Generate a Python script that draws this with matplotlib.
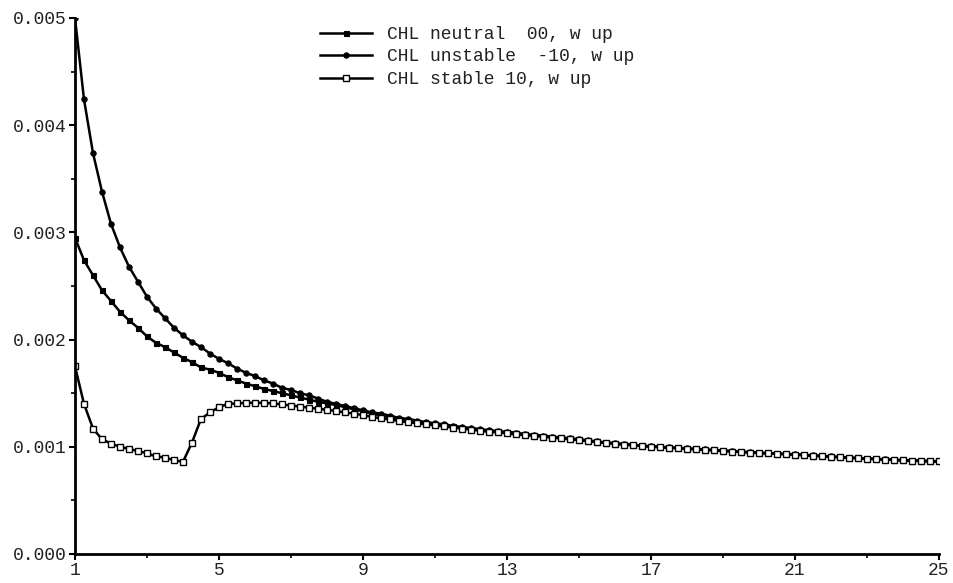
import numpy as np
import matplotlib
matplotlib.use("Agg")
import matplotlib.pyplot as plt
from matplotlib.ticker import FixedLocator, FuncFormatter

# Sample positions along the x axis (quarter steps from 1 to 25)
x_vals = np.arange(1.0, 25.001, 0.25)

# Drag coefficient series, in units of 1e-3 (one row per unit step of x)
chl_neutral_e3 = [
    2.95, 2.74, 2.60, 2.46,
    2.36, 2.26, 2.18, 2.11,
    2.03, 1.97, 1.93, 1.88,
    1.83, 1.79, 1.74, 1.72,
    1.69, 1.65, 1.62, 1.59,
    1.565, 1.54, 1.52, 1.50,
    1.48, 1.46, 1.44, 1.42,
    1.405, 1.39, 1.37, 1.35,
    1.33, 1.31, 1.29, 1.275,
    1.26, 1.25, 1.235, 1.225,
    1.21, 1.20, 1.19, 1.18,
    1.17, 1.16, 1.15, 1.14,
    1.135, 1.125, 1.115, 1.105,
    1.10, 1.09, 1.08, 1.075,
    1.065, 1.055, 1.045, 1.038,
    1.03, 1.022, 1.016, 1.01,
    1.003, 0.998, 0.993, 0.988,
    0.983, 0.978, 0.973, 0.968,
    0.963, 0.958, 0.953, 0.948,
    0.944, 0.94, 0.936, 0.932,
    0.928, 0.923, 0.918, 0.913,
    0.908, 0.903, 0.898, 0.894,
    0.89, 0.886, 0.882, 0.878,
    0.874, 0.871, 0.868, 0.866,
    0.864,
]

chl_unstable_e3 = [
    5.00, 4.24, 3.74, 3.38,
    3.08, 2.86, 2.68, 2.54,
    2.40, 2.29, 2.20, 2.11,
    2.04, 1.98, 1.93, 1.87,
    1.82, 1.78, 1.73, 1.69,
    1.66, 1.62, 1.59, 1.55,
    1.53, 1.50, 1.48, 1.45,
    1.42, 1.40, 1.38, 1.36,
    1.34, 1.32, 1.31, 1.29,
    1.27, 1.26, 1.245, 1.23,
    1.22, 1.21, 1.195, 1.185,
    1.175, 1.165, 1.155, 1.145,
    1.14, 1.13, 1.12, 1.11,
    1.105, 1.095, 1.085, 1.08,
    1.07, 1.06, 1.05, 1.04,
    1.035, 1.025, 1.02, 1.01,
    1.005, 1.0, 0.995, 0.99,
    0.985, 0.98, 0.975, 0.97,
    0.965, 0.96, 0.955, 0.95,
    0.945, 0.94, 0.937, 0.933,
    0.93, 0.925, 0.92, 0.915,
    0.91, 0.905, 0.90, 0.895,
    0.89, 0.887, 0.883, 0.879,
    0.875, 0.872, 0.869, 0.867,
    0.865,
]

chl_stable_e3 = [
    1.75, 1.40, 1.17, 1.07,
    1.03, 1.00, 0.98, 0.96,
    0.94, 0.91, 0.90, 0.875,
    0.86, 1.04, 1.26, 1.32,
    1.37, 1.40, 1.405, 1.41,
    1.41, 1.41, 1.405, 1.395,
    1.385, 1.375, 1.365, 1.355,
    1.345, 1.335, 1.32, 1.31,
    1.295, 1.28, 1.265, 1.255,
    1.24, 1.23, 1.22, 1.21,
    1.20, 1.19, 1.18, 1.17,
    1.16, 1.15, 1.14, 1.135,
    1.125, 1.115, 1.11, 1.10,
    1.095, 1.085, 1.078, 1.07,
    1.062, 1.052, 1.044, 1.036,
    1.028, 1.02, 1.014, 1.008,
    1.001, 0.996, 0.991, 0.986,
    0.981, 0.976, 0.971, 0.966,
    0.961, 0.956, 0.951, 0.946,
    0.942, 0.938, 0.934, 0.93,
    0.926, 0.921, 0.916, 0.911,
    0.906, 0.901, 0.897, 0.893,
    0.889, 0.885, 0.881, 0.877,
    0.873, 0.870, 0.867, 0.865,
    0.863,
]

series_labels = [
    "CHL neutral  00, w up",
    "CHL unstable  -10, w up",
    "CHL stable 10, w up",
]

x_major_ticks = [1, 5, 9, 13, 17, 21, 25]
x_minor_ticks = [3, 7, 11, 15, 19, 23]
y_major_ticks = [0.000, 0.001, 0.002, 0.003, 0.004, 0.005]
y_minor_ticks = [0.0005, 0.0015, 0.0025, 0.0035, 0.0045]

MONO = ["Liberation Mono", "DejaVu Sans Mono"]
FS = 13

fig = plt.figure(figsize=(9.54, 5.83), dpi=100)
ax = fig.add_axes([75 / 954, 29 / 583, 864 / 954, 536 / 583])

scale = 1e-3
ax.plot(x_vals, np.array(chl_neutral_e3) * scale, color="black", lw=1.8,
        marker="s", ms=3.6, mfc="black", mec="black", mew=0.8,
        label=series_labels[0])
ax.plot(x_vals, np.array(chl_unstable_e3) * scale, color="black", lw=1.8,
        marker="o", ms=3.8, mfc="black", mec="black", mew=0.8,
        label=series_labels[1])
ax.plot(x_vals, np.array(chl_stable_e3) * scale, color="black", lw=1.8,
        marker="s", ms=4.0, mfc="white", mec="black", mew=1.0,
        label=series_labels[2])

ax.set_xlim(1, 25)
ax.set_ylim(0, 0.005)

for side in ("top", "right"):
    ax.spines[side].set_visible(False)
for side in ("left", "bottom"):
    ax.spines[side].set_linewidth(2.0)
    ax.spines[side].set_color("black")

ax.xaxis.set_major_locator(FixedLocator(x_major_ticks))
ax.xaxis.set_minor_locator(FixedLocator(x_minor_ticks))
ax.yaxis.set_major_locator(FixedLocator(y_major_ticks))
ax.yaxis.set_minor_locator(FixedLocator(y_minor_ticks))
ax.yaxis.set_major_formatter(FuncFormatter(lambda v, p: f"{v:.3f}"))
ax.xaxis.set_major_formatter(FuncFormatter(lambda v, p: f"{int(round(v))}"))

ax.tick_params(axis="both", which="major", direction="out", length=4,
               width=1.5, color="black", pad=2)
ax.tick_params(axis="both", which="minor", direction="out", length=3,
               width=1.2, color="black")
for lab in ax.get_xticklabels() + ax.get_yticklabels():
    lab.set_fontfamily(MONO)
    lab.set_fontsize(FS)
    lab.set_color("#222222")

leg = ax.legend(loc="upper left", bbox_to_anchor=(320 / 954, 1 - 26 / 583),
                bbox_transform=fig.transFigure, frameon=False,
                handlelength=2.9, handletextpad=0.8, labelspacing=0.3,
                borderpad=0.0, borderaxespad=0.0,
                prop={"family": MONO, "size": FS})
for t in leg.get_texts():
    t.set_color("#222222")

fig.savefig("out.png", dpi=100)
